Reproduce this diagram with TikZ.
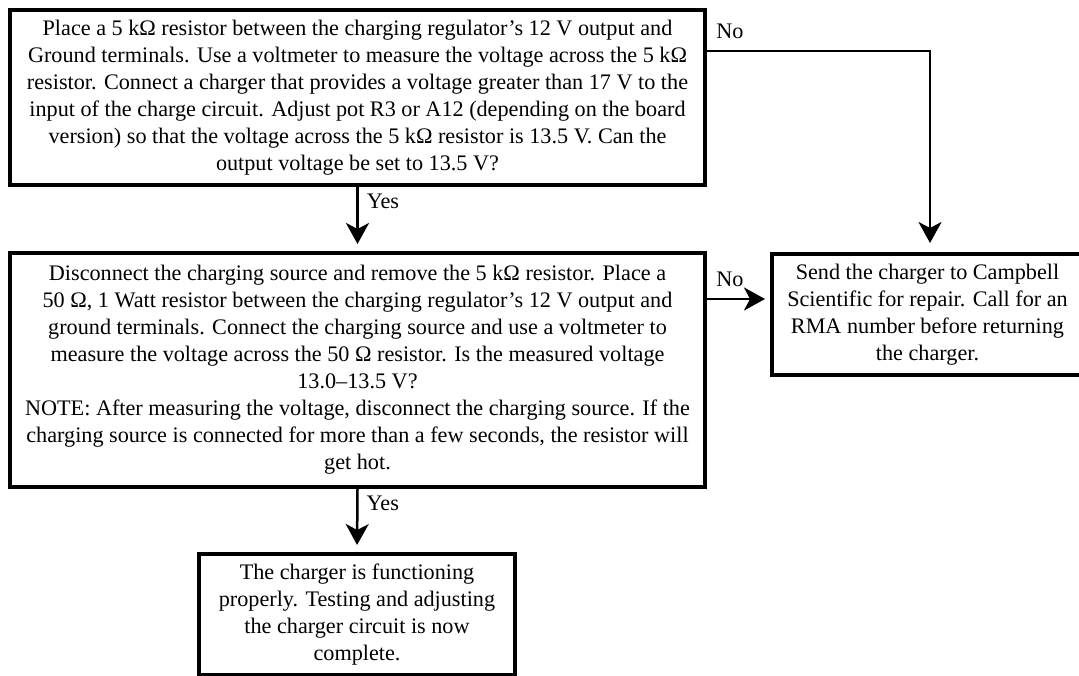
\documentclass[tikz,border=0pt]{standalone}
\usepackage{fontspec}
\setmainfont{Liberation Serif}
\usetikzlibrary{arrows.meta}

\begin{document}
\begin{tikzpicture}[x=1pt, y=1pt, >={Stealth[length=21pt, width=23pt, inset=6pt]},
  stepbox/.style={draw, line width=4pt, rectangle, align=center, inner sep=0pt,
    font=\fontsize{22.2}{27}\selectfont},
  flow/.style={->, line width=2.5pt},
  lbl/.style={font=\fontsize{22.2}{27}\selectfont, inner sep=1pt}]
  \useasboundingbox (0,0) rectangle (1079,-676);
  % test steps
  \node[stepbox, minimum width=695pt, minimum height=175pt] (setv) at (357.5,-97.5)
    {Place a 5 kΩ resistor between the charging regulator’s 12 V output and\\
     Ground terminals. Use a voltmeter to measure the voltage across the 5 kΩ\\
     resistor. Connect a charger that provides a voltage greater than 17 V to the\\
     input of the charge circuit. Adjust pot R3 or A12 (depending on the board\\
     version) so that the voltage across the 5 kΩ resistor is 13.5 V. Can the\\
     output voltage be set to 13.5 V?};
  \node[stepbox, minimum width=695pt, minimum height=234pt] (loadt) at (357.5,-370)
    {Disconnect the charging source and remove the 5 kΩ resistor. Place a\\
     50 Ω, 1 Watt resistor between the charging regulator’s 12 V output and\\
     ground terminals. Connect the charging source and use a voltmeter to\\
     measure the voltage across the 50 Ω resistor. Is the measured voltage\\
     13.0–13.5 V?\\
     NOTE: After measuring the voltage, disconnect the charging source. If the\\
     charging source is connected for more than a few seconds, the resistor will\\
     get hot.};
  % outcomes
  \node[stepbox, minimum width=311pt, minimum height=121pt] (repair) at (927.5,-314.5)
    {Send the charger to Campbell\\
     Scientific for repair. Call for an\\
     RMA number before returning\\
     the charger.};
  \node[stepbox, minimum width=316pt, minimum height=121pt] (done) at (357,-614.5)
    {The charger is functioning\\
     properly. Testing and adjusting\\
     the charger circuit is now\\
     complete.};
  % yes / no connectors
  \coordinate (noin) at ([yshift=15.5pt]repair.west);
  \draw[flow, shorten >=7pt] (setv.south) --
    node[lbl, anchor=west, pos=0.22, xshift=7pt] {Yes} (loadt.north);
  \draw[flow, shorten >=9pt] ([yshift=46.5pt]setv.east) -|
    node[lbl, anchor=south west, pos=0, xshift=7pt, yshift=10pt] {No} ([xshift=2.5pt]repair.north);
  \draw[flow, shorten >=5pt] (loadt.east |- noin) --
    node[lbl, anchor=south west, pos=0, xshift=7pt, yshift=10pt] {No} (noin);
  \draw[flow, shorten >=7pt] (loadt.south) --
    node[lbl, anchor=west, pos=0.22, xshift=7pt] {Yes} (done.north);
\end{tikzpicture}
\end{document}
